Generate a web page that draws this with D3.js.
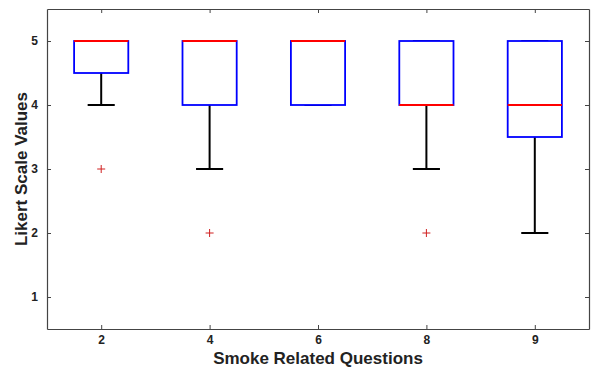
<!DOCTYPE html>
<html>
<head>
<meta charset="utf-8">
<script src="https://cdn.jsdelivr.net/npm/d3@7"></script>
<style>
  body { margin: 0; background: #fff; }
  text { font-family: Arial, "Liberation Sans", sans-serif; font-weight: bold; fill: #222; }
</style>
</head>
<body>
<script>
// DATA
const questions = ["2", "4", "6", "8", "9"];
const q1 = [4.5, 4, 4, 4, 3.5];
const medians = [5, 5, 5, 4, 4];
const q3 = [5, 5, 5, 5, 5];
const whiskerLow = [4, 3, 4, 3, 2];
const whiskerHigh = [5, 5, 5, 5, 5];
const outliers = [[3], [2], [], [2], []];
const yTicks = [1, 2, 3, 4, 5];

// SVG and plot area
const w = 602, h = 375;
const margin = {top: 9, right: 13, bottom: 46, left: 47};

const svg = d3.select("body")
  .append("svg")
  .attr("width", w)
  .attr("height", h);

const x = d3.scaleLinear()
  .domain([0.5, questions.length + 0.5])
  .range([margin.left, w - margin.right]);

const y = d3.scaleLinear()
  .domain([0.5, 5.5])
  .range([h - margin.bottom, margin.top]);

const boxHalf = 0.25, capHalf = 0.125;

// axes (box style, ticks inward)
const xAxis = d3.axisBottom(x)
  .tickValues(d3.range(1, questions.length + 1))
  .tickFormat((d) => questions[d - 1])
  .tickSizeInner(-4).tickSizeOuter(0).tickPadding(6);

const yAxis = d3.axisLeft(y)
  .tickValues(yTicks)
  .tickFormat(d3.format("d"))
  .tickSizeInner(-4).tickSizeOuter(0).tickPadding(9);

svg.append("g")
  .attr("transform", `translate(0, ${h - margin.bottom})`)
  .call(xAxis);

svg.append("g")
  .attr("transform", `translate(${margin.left}, 0)`)
  .call(yAxis);

svg.append("g")
  .attr("transform", `translate(0, ${margin.top})`)
  .call(d3.axisTop(x).tickValues(d3.range(1, questions.length + 1))
    .tickFormat("").tickSizeInner(-4).tickSizeOuter(0));

svg.append("g")
  .attr("transform", `translate(${w - margin.right}, 0)`)
  .call(d3.axisRight(y).tickValues(yTicks)
    .tickFormat("").tickSizeInner(-4).tickSizeOuter(0));

svg.selectAll(".domain").attr("stroke", "#444").attr("stroke-width", 1.2);
svg.selectAll(".tick line").attr("stroke", "#444");
svg.selectAll(".tick text").attr("font-size", 12).attr("fill", "#222");

// box plots
const boxes = svg.append("g")
  .selectAll("g")
  .data(questions.map((q, i) => ({i: i + 1, q1: q1[i], med: medians[i], q3: q3[i],
    lo: whiskerLow[i], hi: whiskerHigh[i], out: outliers[i]})))
  .join("g");

// whiskers
boxes.append("line")
  .attr("x1", (d) => x(d.i)).attr("x2", (d) => x(d.i))
  .attr("y1", (d) => y(d.lo)).attr("y2", (d) => y(d.q1))
  .attr("stroke", "#000").attr("stroke-width", 2);
boxes.append("line")
  .attr("x1", (d) => x(d.i)).attr("x2", (d) => x(d.i))
  .attr("y1", (d) => y(d.hi)).attr("y2", (d) => y(d.q3))
  .attr("stroke", "#000").attr("stroke-width", 2);
boxes.append("line")
  .attr("x1", (d) => x(d.i - capHalf)).attr("x2", (d) => x(d.i + capHalf))
  .attr("y1", (d) => y(d.lo)).attr("y2", (d) => y(d.lo))
  .attr("stroke", "#000").attr("stroke-width", 2);
boxes.append("line")
  .attr("x1", (d) => x(d.i - capHalf)).attr("x2", (d) => x(d.i + capHalf))
  .attr("y1", (d) => y(d.hi)).attr("y2", (d) => y(d.hi))
  .attr("stroke", "#000").attr("stroke-width", 2);

// boxes
boxes.append("rect")
  .attr("x", (d) => x(d.i - boxHalf))
  .attr("width", (d) => x(d.i + boxHalf) - x(d.i - boxHalf))
  .attr("y", (d) => y(d.q3))
  .attr("height", (d) => y(d.q1) - y(d.q3))
  .attr("fill", "#fff")
  .attr("stroke", "#0000ff")
  .attr("stroke-width", 1.8);

// medians
boxes.append("line")
  .attr("x1", (d) => x(d.i - boxHalf)).attr("x2", (d) => x(d.i + boxHalf))
  .attr("y1", (d) => y(d.med)).attr("y2", (d) => y(d.med))
  .attr("stroke", "#ff0000").attr("stroke-width", 1.8);

// outliers
boxes.selectAll("path.out")
  .data((d) => d.out.map((v) => ({i: d.i, v: v})))
  .join("path")
  .attr("class", "out")
  .attr("d", (d) => `M${x(d.i) - 4},${y(d.v)}H${x(d.i) + 4}M${x(d.i)},${y(d.v) - 4}V${y(d.v) + 4}`)
  .attr("stroke", "#d02020")
  .attr("stroke-width", 1);

// axis titles
svg.append("text")
  .attr("x", (margin.left + w - margin.right) / 2)
  .attr("y", 364)
  .attr("text-anchor", "middle")
  .attr("font-size", 17)
  .text("Smoke Related Questions");

svg.append("text")
  .attr("transform", `translate(27, ${(margin.top + h - margin.bottom) / 2}) rotate(-90)`)
  .attr("text-anchor", "middle")
  .attr("font-size", 17)
  .text("Likert Scale Values");
</script>
</body>
</html>
